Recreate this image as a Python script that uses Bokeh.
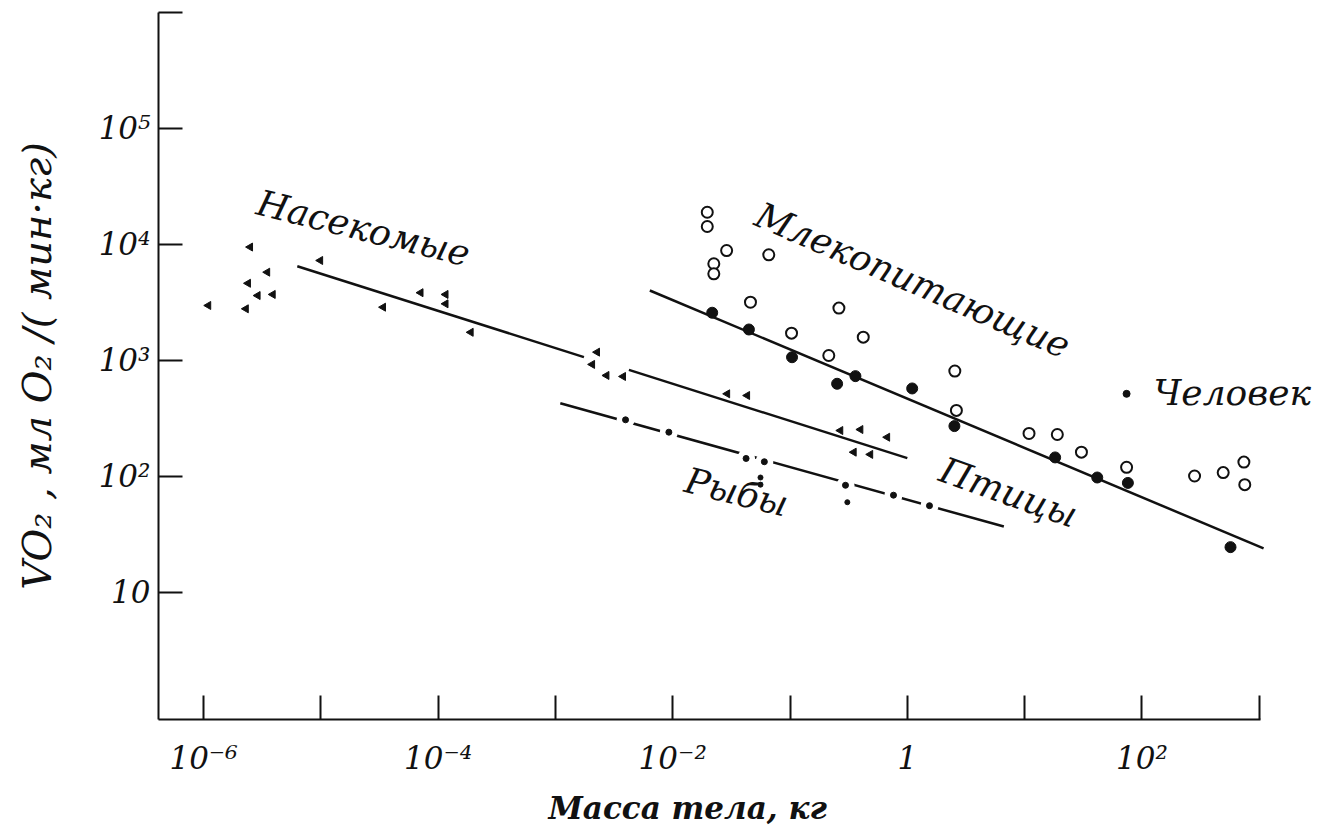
from bokeh.plotting import figure
from bokeh.models import FixedTicker, CustomJSTickFormatter, Range1d, Title
from bokeh.core.properties import value
from bokeh.embed import file_html
from bokeh.resources import INLINE

# ---------------- data (mass in kg, VO2 in ml O2/(min*kg)) ----------------
insect_mass = [1.1e-6, 2.5e-6, 2.4e-6, 3.5e-6, 2.9e-6, 3.9e-6, 2.3e-6, 9.9e-6,
               3.4e-5, 7.1e-5, 1.16e-4, 1.16e-4, 1.9e-4, 2.06e-3, 2.27e-3]
insect_vo2 = [2980, 9500, 4630, 5770, 3630, 3710, 2790, 7280,
              2880, 3840, 3710, 3080, 1750, 925, 1180]
insect_fit_mass = [6.3e-6, 1.75e-3]
insect_fit_vo2 = [6500, 1070]

bird_mass = [2.73e-3, 3.78e-3, 2.92e-2, 4.32e-2, 0.269, 0.399, 0.675, 0.350, 0.484]
bird_vo2 = [743, 728, 516, 499, 249, 254, 218, 162, 155]
bird_fit_mass = [4.23e-3, 1.0]
bird_fit_vo2 = [830, 144]

fish_mass = [3.96e-3, 9.27e-3, 4.22e-2, 6.04e-2, 0.297, 0.762, 1.545]
fish_vo2 = [308, 241, 143, 134, 84, 69, 56]
fish_extra_mass = [5.6e-2, 5.6e-2, 0.308]
fish_extra_vo2 = [98, 85, 60]
fish_fit_mass = [1.10e-3, 6.65]
fish_fit_vo2 = [428, 37]

mammal_filled_mass = [2.17e-2, 4.46e-2, 0.104, 0.252, 0.361, 1.10, 2.52, 18.2, 41.6, 75.9, 569]
mammal_filled_vo2 = [2580, 1850, 1067, 630, 733, 574, 272, 146, 98, 88, 24.6]
mammal_open_mass = [1.97e-2, 1.97e-2, 2.88e-2, 2.24e-2, 2.24e-2, 6.59e-2, 4.60e-2, 0.103,
                    0.261, 0.214, 0.421, 2.54, 2.62, 10.9, 19.0, 30.5, 74.0, 281, 493, 740, 753]
mammal_open_vo2 = [18970, 14290, 8870, 6820, 5590, 8150, 3180, 1720,
                   2830, 1104, 1590, 811, 371, 235, 230, 162, 120, 101, 108, 133, 85]
mammal_fit_mass = [6.38e-3, 1089]
mammal_fit_vo2 = [4010, 24]

human_mass = [74.0]
human_vo2 = [516]

group_labels = ["Насекомые", "Млекопитающие", "Птицы", "Рыбы"]
group_label_mass = [2.31e-5, 1.11, 7.29, 0.035]
group_label_vo2 = [13840, 4910, 72.8, 73.3]
group_label_angle_deg = [-14.0, -23.4, -19.5, -14.0]

human_label = ["Человек"]
human_label_mass = [125.6]
human_label_vo2 = [530]

x_tick_exps = [-6, -5, -4, -3, -2, -1, 0, 1, 2, 3]
x_tick_labels = ["10⁻⁶", "", "10⁻⁴", "", "10⁻²", "", "1", "", "10²", ""]
y_tick_exps = [1, 2, 3, 4, 5, 6]
y_tick_labels = ["10", "10²", "10³", "10⁴", "10⁵", ""]

x_title = "Масса тела,  кг"
y_title = "VO₂ , мл O₂ /( мин·кг)"

# ---------------- figure ----------------
INK = "#111111"
FONT = "DejaVu Serif"
X_START, X_AXIS_END, X_VIEW_END = 10 ** -6.384, 10 ** 3.01, 10 ** 3.565

p = figure(frame_width=1167, frame_height=707,
           x_axis_type="log", y_axis_type="log",
           x_range=Range1d(X_START, X_VIEW_END),
           y_range=Range1d(10 ** -0.095, 10 ** 6),
           min_border_left=158, min_border_right=0,
           min_border_top=12, min_border_bottom=113,
           output_backend="svg", toolbar_location=None)
p.outline_line_color = None
p.xgrid.visible = False
p.ygrid.visible = False
p.background_fill_color = "white"
p.border_fill_color = "white"

fmt_code = """
const e = Math.round(Math.log10(tick));
const i = exps.indexOf(e);
return i >= 0 ? labels[i] : "";
"""
p.xaxis.ticker = FixedTicker(ticks=[10.0 ** e for e in x_tick_exps])
p.xaxis.formatter = CustomJSTickFormatter(args=dict(exps=x_tick_exps, labels=x_tick_labels), code=fmt_code)
p.xaxis.bounds = (X_START, X_AXIS_END)
p.yaxis.ticker = FixedTicker(ticks=[10.0 ** e for e in y_tick_exps])
p.yaxis.formatter = CustomJSTickFormatter(args=dict(exps=y_tick_exps, labels=y_tick_labels), code=fmt_code)

for ax in (p.xaxis, p.yaxis):
    ax.axis_line_width = 2
    ax.axis_line_color = INK
    ax.major_tick_line_width = 2
    ax.major_tick_line_color = INK
    ax.major_tick_in = 24
    ax.major_tick_out = 0
    ax.minor_tick_line_color = None
    ax.major_label_text_font = FONT
    ax.major_label_text_font_style = "italic"
    ax.major_label_text_font_size = "31px"
    ax.major_label_text_color = INK
    ax.axis_label_text_font = FONT
    ax.axis_label_text_color = INK

p.xaxis.major_label_standoff = 20
p.yaxis.major_label_standoff = 8
p.yaxis.axis_label = y_title
p.yaxis.axis_label_text_font_style = "italic"
p.yaxis.axis_label_text_font_size = "40px"
p.yaxis.axis_label_standoff = 36

p.add_layout(Title(text=x_title, align="left", offset=390, standoff=18,
                   text_font=FONT, text_font_style="bold italic",
                   text_font_size="31px", text_color=INK), "below")

# fitted lines
p.line(insect_fit_mass, insect_fit_vo2, line_width=2.5, line_color=INK)
p.line(bird_fit_mass, bird_fit_vo2, line_width=2.5, line_color=INK)
p.line(fish_fit_mass, fish_fit_vo2, line_width=2.5, line_color=INK)
p.line(mammal_fit_mass, mammal_fit_vo2, line_width=2.5, line_color=INK)

# white gaps in the fish line around its points
p.scatter(fish_mass, fish_vo2, marker="circle", size=18, fill_color="white", line_color=None)

# points
p.scatter(insect_mass, insect_vo2, marker="triangle", angle=1.5708, size=8,
          fill_color=INK, line_color=INK)
p.scatter(bird_mass, bird_vo2, marker="triangle", angle=1.5708, size=8,
          fill_color=INK, line_color=INK)
p.scatter(fish_mass, fish_vo2, marker="circle", size=6, fill_color=INK, line_color=INK)
p.scatter(fish_extra_mass, fish_extra_vo2, marker="circle", size=5, fill_color=INK, line_color=INK)
p.scatter(mammal_open_mass, mammal_open_vo2, marker="circle", size=11,
          fill_color="white", line_color=INK, line_width=2)
p.scatter(mammal_filled_mass, mammal_filled_vo2, marker="circle", size=11,
          fill_color=INK, line_color=INK)
p.scatter(human_mass, human_vo2, marker="circle", size=7, fill_color=INK, line_color=INK)

# labels
angles = [a * 3.14159265 / 180.0 for a in group_label_angle_deg]
p.text(x=group_label_mass, y=group_label_vo2, text=group_labels, angle=angles,
       text_align="center", text_baseline="middle",
       text_font=value(FONT), text_font_style="italic", text_font_size="36px",
       text_color=INK)
p.text(x=human_label_mass, y=human_label_vo2, text=human_label,
       text_align="left", text_baseline="middle",
       text_font=value(FONT), text_font_style="italic", text_font_size="36px",
       text_color=INK)

open("out.html", "w").write(file_html(p, INLINE))
